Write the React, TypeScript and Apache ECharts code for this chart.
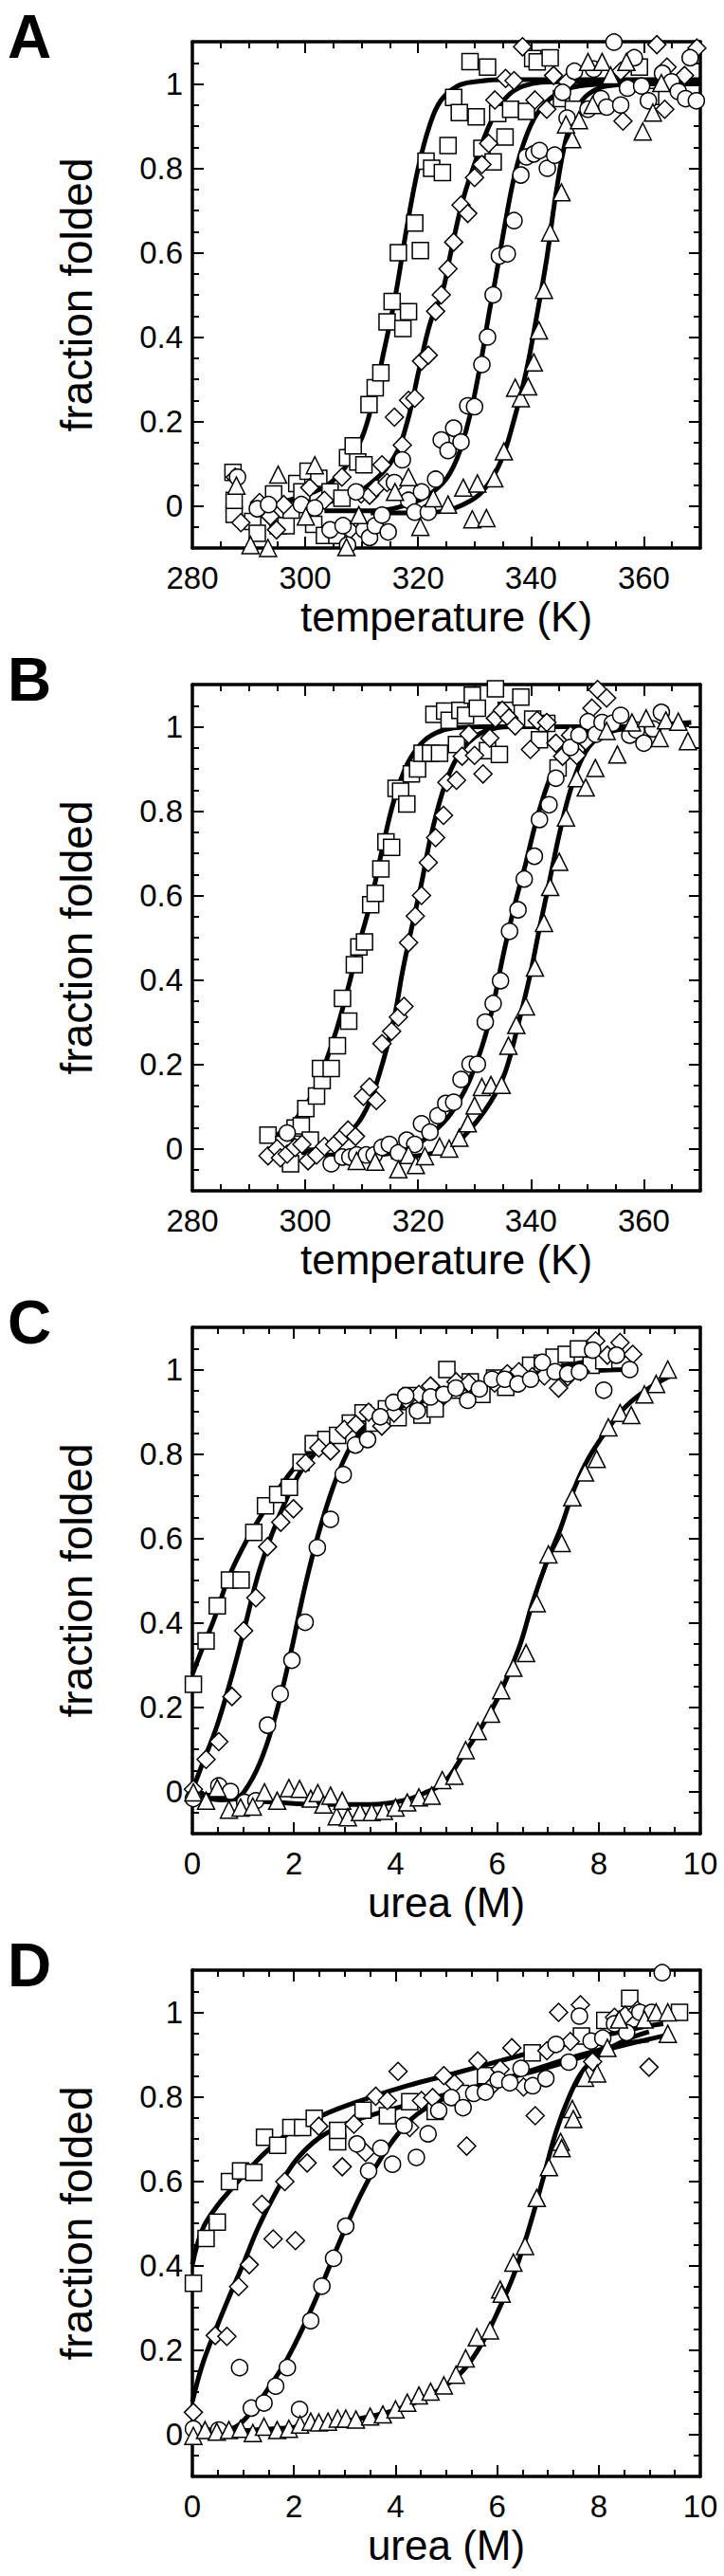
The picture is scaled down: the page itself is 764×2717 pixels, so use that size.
import React, { useEffect, useRef } from 'react';
import * as echarts from 'echarts';

const FONT = '"Liberation Sans", Arial, Helvetica, sans-serif';

const panelLetters = ['A', 'B', 'C', 'D'];
const xTitles = ['temperature (K)', 'temperature (K)', 'urea (M)', 'urea (M)'];
const yTitle = 'fraction folded';

const tempMajor = [280, 300, 320, 340, 360];
const tempMinorStep = 5;
const ureaMajor = [0, 2, 4, 6, 8, 10];
const ureaMinorStep = 0.5;
const fracMajor = [0, 0.2, 0.4, 0.6, 0.8, 1];
const fracMinorStep = 0.05;

// ---------- Panel A (thermal, temperature K) ----------
const aSquares = [
  [287.4, -0.02], [287.4, 0.013], [287.2, 0.079], [290.7, -0.037], [291.5, -0.065], [294.4, 0.028],
  [295.2, -0.047], [296.6, -0.047], [297.5, -0.01], [298.5, 0.053], [299.4, 0.033], [300.5, 0.082],
  [301.5, -0.044], [302.4, 0.065], [303.4, -0.07], [304.4, 0.033], [305.6, -0.07], [306.5, 0.018],
  [307.5, 0.114], [308.5, 0.142], [309.3, 0.104], [310.4, 0.097], [311.3, 0.24], [312.4, 0.28],
  [313.4, 0.315], [314.5, 0.436], [315.4, 0.484], [316.5, 0.6], [317.3, 0.42], [318.3, 0.46],
  [319.4, 0.67], [320.4, 0.605], [321.4, 0.817], [322.4, 0.8], [324.3, 0.79], [325.3, 0.854],
  [326.3, 0.968], [327.3, 0.932], [330.3, 0.922], [329.2, 1.053], [332.3, 1.04], [331.3, 0.847],
  [333.3, 0.815], [334.1, 0.93], [335.4, 0.874], [336.4, 0.94], [339.2, 0.935], [340.3, 1.06],
  [341.1, 1.052], [343.4, 1.062], [345.4, 0.965], [347.5, 0.94], [359.2, 1.04], [361.2, 0.97]
];
const aDiamonds = [
  [287.6, 0.068], [288.6, -0.04], [291.9, 0.008], [293.8, -0.025], [294.9, -0.057], [296.2, 0.003],
  [300.8, 0.043], [303.4, 0.013], [306.5, 0.068], [307.9, -0.057], [309.9, 0.028], [311.4, 0.025],
  [312.6, 0.043], [313.6, 0.097], [314.5, 0.055], [315.8, 0.21], [317.2, 0.144], [318.3, 0.25],
  [319.4, 0.255], [320.6, 0.343], [321.8, 0.357], [323.1, 0.461], [324.1, 0.5], [325.3, 0.562],
  [326.3, 0.625], [327.6, 0.713], [328.8, 0.693], [330.0, 0.778], [331.3, 0.809], [332.5, 0.859],
  [333.6, 0.962], [335.5, 1.013], [337.0, 1.008], [338.5, 1.088], [340.7, 0.962], [342.8, 0.94],
  [344.0, 1.02], [346.4, 1.005], [355.9, 1.03], [356.3, 0.912], [362.3, 1.093], [363.7, 0.94],
  [364.1, 1.04], [367.2, 1.02], [369.4, 1.085]
];
const aCircles = [
  [288.0, 0.068], [291.5, -0.007], [293.5, 0.003], [299.3, 0.003], [301.7, -0.005], [304.4, -0.057],
  [306.7, -0.047], [307.5, -0.093], [309.0, 0.033], [310.4, -0.057], [311.4, -0.075], [312.4, -0.047],
  [313.6, -0.022], [314.7, -0.062], [315.8, 0.055], [317.2, 0.109], [318.3, 0.013], [319.4, -0.015],
  [320.6, 0.033], [321.8, -0.015], [323.1, 0.063], [324.1, 0.156], [325.3, 0.131], [326.3, 0.184],
  [327.6, 0.151], [328.8, 0.237], [330.0, 0.235], [331.3, 0.335], [332.3, 0.4], [333.3, 0.5],
  [334.4, 0.592], [335.8, 0.597], [337.0, 0.676], [338.2, 0.784], [339.2, 0.827], [340.5, 0.834],
  [341.5, 0.842], [342.9, 0.8], [344.2, 0.831], [345.6, 0.98], [346.4, 0.919], [347.7, 1.03],
  [350.1, 0.94], [351.1, 1.035], [352.4, 0.965], [353.4, 0.945], [354.7, 1.099], [355.9, 0.95],
  [357.1, 0.99], [358.3, 1.062], [359.6, 0.995], [360.8, 0.96], [363.3, 1.025], [364.9, 1.005],
  [366.1, 0.982], [367.4, 0.965], [368.2, 1.062], [369.3, 0.96]
];
const aTriangles = [
  [287.8, 0.048], [290.3, -0.093], [293.4, -0.1], [295.2, 0.074], [300.1, -0.025], [301.7, 0.096],
  [307.3, -0.098], [309.5, -0.022], [315.9, 0.033], [318.3, 0.068], [320.4, -0.05], [322.7, 0.018],
  [325.3, 0.003], [328.0, 0.043], [329.6, -0.032], [330.5, 0.053], [332.1, -0.029], [333.5, 0.065],
  [335.2, 0.129], [337.2, 0.28], [338.2, 0.255], [339.5, 0.283], [340.5, 0.34], [341.4, 0.416],
  [342.3, 0.512], [343.4, 0.648], [345.4, 0.743], [347.3, 0.869], [346.2, 0.904], [348.5, 0.914],
  [350.1, 1.052], [350.9, 0.95], [352.6, 1.052], [354.1, 1.02], [356.9, 1.052], [359.8, 0.887],
  [361.6, 0.932], [363.1, 1.002]
];
const aSquareFit = [
  [296, 0.01], [300, 0.025], [304, 0.05], [307, 0.09], [310, 0.16], [312, 0.25], [314, 0.37],
  [316, 0.5], [318, 0.66], [320, 0.8], [322, 0.9], [324, 0.96], [327, 0.995], [330, 1.005],
  [335, 1.01], [350, 1.01], [370, 1.01]
];
const aDiamondFit = [
  [300, 0.005], [307, 0.018], [311.6, 0.053], [315.7, 0.114], [318.1, 0.2], [320.2, 0.325],
  [322.2, 0.436], [324.3, 0.507], [325.9, 0.607], [328, 0.728], [330.5, 0.829], [332.9, 0.91],
  [335.4, 0.965], [338.7, 0.995], [345, 1.005], [370, 1.005]
];
const aCircleFit = [
  [303.4, -0.012], [311.6, -0.012], [318.1, 0.003], [323.1, 0.038], [326.3, 0.094], [328.8, 0.194],
  [330.9, 0.325], [332.5, 0.451], [333.7, 0.537], [335.4, 0.668], [337.0, 0.778], [338.7, 0.859],
  [341.1, 0.93], [344.4, 0.975], [348.5, 0.995], [355, 1.0], [370, 1.0]
];
const aTriangleFit = [
  [311.6, -0.017], [319.8, -0.017], [324.7, -0.012], [328, 0.003], [331.3, 0.033], [334.6, 0.104],
  [337, 0.204], [339.1, 0.315], [341.1, 0.456], [342.8, 0.587], [344.4, 0.738], [346.2, 0.869],
  [348.1, 0.94], [350.1, 0.975], [353.4, 0.995], [360, 1.0], [370, 1.0]
];

// ---------- Panel B (thermal, temperature K) ----------
const bSquares = [
  [293.4, 0.032], [297.4, -0.036], [296.2, 0.01], [298.2, 0.049], [299.3, 0.054], [300.1, 0.095],
  [300.9, 0.02], [302.0, 0.125], [303.0, 0.161], [302.7, 0.19], [304.6, 0.19], [305.7, 0.244],
  [307.7, 0.302], [306.6, 0.356], [308.7, 0.436], [309.5, 0.478], [310.5, 0.49], [311.6, 0.578],
  [312.4, 0.605], [313.4, 0.663], [314.3, 0.727], [315.3, 0.714], [316.1, 0.854], [316.9, 0.847],
  [318.0, 0.817], [318.8, 0.888], [319.9, 0.9], [320.7, 0.937], [322.2, 0.937], [323.8, 0.937],
  [322.8, 1.029], [324.7, 1.037], [325.5, 1.015], [326.8, 0.958], [327.4, 1.039], [328.4, 1.027],
  [329.6, 1.075], [330.5, 1.044], [332.3, 0.943], [334.4, 0.934], [333.7, 1.09], [335.6, 1.039],
  [338.2, 1.07], [340.3, 1.018], [341.5, 0.969], [342.8, 1.008], [344.8, 0.902]
];
const bDiamonds = [
  [293.4, -0.017], [295.0, 0.0], [295.6, -0.022], [296.8, -0.013], [298.2, 0.003], [299.4, 0.01],
  [300.5, -0.029], [302.0, -0.015], [303.4, 0.005], [305.2, 0.01], [306.6, 0.029], [307.6, 0.044],
  [308.9, 0.029], [310.3, 0.124], [311.4, 0.146], [312.6, 0.114], [313.6, 0.249], [315.3, 0.278],
  [316.5, 0.312], [317.5, 0.337], [318.3, 0.488], [319.5, 0.551], [320.6, 0.6], [321.8, 0.678],
  [323.1, 0.737], [324.5, 0.79], [325.1, 0.868], [326.8, 0.873], [327.8, 0.93], [329.0, 0.982],
  [330.0, 0.932], [331.5, 0.888], [332.7, 0.973], [333.7, 1.02], [334.9, 1.039], [336.1, 1.021],
  [337.2, 1.002], [339.9, 0.946], [341.1, 1.015], [342.8, 1.01], [344.4, 0.961], [345.6, 0.93],
  [347.0, 0.98], [348.1, 0.932], [349.7, 0.966], [350.8, 1.044], [351.8, 1.088], [353.4, 1.068]
];
const bCircles = [
  [296.8, 0.037], [304.6, -0.036], [306.6, -0.02], [307.9, -0.02], [309.1, -0.015], [310.8, -0.015],
  [312.2, -0.015], [313.6, 0.003], [314.9, 0.01], [316.5, -0.01], [318.0, 0.02], [319.4, 0.01],
  [320.6, 0.059], [322.1, 0.039], [323.5, 0.078], [324.9, 0.107], [326.3, 0.11], [327.6, 0.164],
  [329.2, 0.2], [330.5, 0.2], [331.9, 0.3], [333.3, 0.344], [334.6, 0.398], [336.2, 0.515],
  [337.7, 0.566], [338.8, 0.639], [340.6, 0.693], [341.5, 0.78], [343.2, 0.815], [344.4, 0.878],
  [347.0, 0.951], [348.5, 0.98], [350.1, 1.012], [351.5, 0.982], [352.6, 1.01], [354.4, 1.008],
  [355.9, 1.027], [357.5, 0.98], [358.7, 0.992], [360.0, 0.961], [361.6, 0.995], [363.1, 1.034]
];
const bTriangles = [
  [309.1, -0.029], [312.4, -0.031], [316.5, -0.049], [318.3, -0.015], [319.6, -0.039], [321.2, -0.018],
  [323.8, 0.005], [325.5, 0.0], [327.3, 0.026], [328.8, 0.06], [330.0, 0.102], [331.3, 0.146],
  [332.9, 0.151], [334.8, 0.151], [336.0, 0.244], [337.4, 0.293], [339.1, 0.337], [340.7, 0.429],
  [342.3, 0.535], [343.4, 0.62], [345.0, 0.68], [346.2, 0.785], [348.1, 0.878], [349.7, 0.856],
  [351.4, 0.902], [353.4, 0.99], [355.3, 0.934], [357.9, 1.01], [360.4, 1.02], [362.8, 0.973],
  [363.9, 1.015], [366.1, 1.012], [367.8, 0.966]
];
const bSquareFit = [
  [292.7, 0.02], [295.2, 0.034], [298.5, 0.073], [301.7, 0.141], [305, 0.259], [307.5, 0.376],
  [309.5, 0.483], [311.6, 0.585], [313.6, 0.707], [315.7, 0.824], [318.1, 0.912], [320.6, 0.961],
  [323.1, 0.985], [326.3, 0.997], [332, 1.0], [345, 1.0]
];
const bDiamondFit = [
  [299.3, -0.01], [303.4, 0.005], [307.5, 0.034], [310.8, 0.093], [313.2, 0.18], [315.7, 0.307],
  [317.3, 0.424], [319, 0.532], [320.6, 0.629], [322.2, 0.737], [324.3, 0.844], [326.3, 0.912],
  [328.8, 0.961], [332, 0.99], [336.2, 1.0], [350, 1.0]
];
const bCircleFit = [
  [303.4, -0.015], [311.6, -0.015], [318.1, 0.0], [323.1, 0.044], [327.2, 0.112], [330.5, 0.21],
  [332.9, 0.317], [335, 0.454], [337, 0.571], [339.1, 0.678], [341.1, 0.785], [343.2, 0.873],
  [345.2, 0.932], [347.7, 0.971], [350.9, 0.995], [356, 1.0], [368, 1.005]
];
const bTriangleFit = [
  [315.2, -0.02], [320.9, -0.015], [325.8, 0.005], [329.1, 0.044], [332.9, 0.112], [335.4, 0.18],
  [337.8, 0.298], [339.9, 0.415], [341.5, 0.522], [343.2, 0.629], [345.2, 0.756], [347.3, 0.863],
  [349.7, 0.941], [352.6, 0.98], [356.7, 0.995], [368.4, 1.01]
];

// ---------- Panel C (urea M) ----------
const cSquares = [
  [0.02, 0.254], [0.27, 0.357], [0.49, 0.44], [0.73, 0.501], [0.96, 0.501], [1.21, 0.614],
  [1.44, 0.677], [1.68, 0.704], [1.91, 0.721], [2.14, 0.78], [2.38, 0.824], [2.63, 0.834],
  [2.86, 0.844], [3.11, 0.873], [3.36, 0.897], [3.57, 0.873], [3.82, 0.907], [4.05, 0.886],
  [4.30, 0.938], [4.52, 0.892], [4.78, 0.907], [5.01, 1.0], [5.24, 0.951], [5.47, 0.971],
  [5.70, 0.941], [5.95, 0.98], [6.17, 0.958], [6.41, 0.983], [6.66, 1.01], [6.89, 1.015],
  [7.12, 1.029], [7.36, 1.036], [7.60, 1.049], [7.85, 1.01], [8.10, 1.021]
];
const cDiamonds = [
  [0.02, 0.005], [0.27, 0.076], [0.52, 0.118], [0.78, 0.225], [1.01, 0.381], [1.25, 0.459],
  [1.48, 0.58], [1.74, 0.638], [1.99, 0.67], [2.23, 0.778], [2.49, 0.814], [2.72, 0.807],
  [2.99, 0.858], [3.22, 0.87], [3.47, 0.899], [3.73, 0.866], [3.97, 0.897], [4.21, 0.929],
  [4.46, 0.941], [4.69, 0.961], [4.95, 0.938], [5.19, 0.971], [5.44, 0.968], [5.95, 0.968],
  [6.20, 0.99], [6.43, 0.995], [6.69, 0.983], [6.93, 0.985], [7.21, 0.956], [7.39, 0.983],
  [7.64, 0.995], [7.94, 1.068], [8.17, 1.034], [8.42, 1.064], [8.67, 1.036]
];
const cCircles = [
  [0.02, -0.017], [0.52, 0.013], [0.75, 0.0], [1.03, -0.026], [1.25, -0.022], [1.48, 0.157],
  [1.73, 0.231], [1.96, 0.311], [2.22, 0.401], [2.46, 0.578], [2.72, 0.645], [2.97, 0.751],
  [3.21, 0.821], [3.45, 0.834], [3.70, 0.888], [3.96, 0.922], [4.20, 0.938], [4.43, 0.902],
  [4.69, 0.935], [4.95, 0.941], [5.19, 0.956], [5.42, 0.927], [5.65, 0.954], [5.90, 0.977],
  [6.15, 0.977], [6.41, 0.966], [6.66, 0.977], [6.89, 1.017], [7.14, 0.995], [7.39, 0.99],
  [7.62, 0.995], [7.88, 1.046], [8.10, 0.951], [8.35, 1.034], [8.61, 1.0]
];
const cTriangles = [
  [0.02, -0.002], [0.27, -0.022], [0.49, 0.008], [0.72, -0.043], [0.95, -0.038], [1.19, -0.036],
  [1.42, -0.002], [1.67, -0.022], [1.90, 0.008], [2.11, 0.006], [2.33, -0.017], [2.47, -0.004],
  [2.58, -0.031], [2.72, -0.01], [2.84, -0.059], [2.95, -0.022], [3.06, -0.061], [3.30, -0.049],
  [3.53, -0.049], [3.77, -0.046], [4.00, -0.038], [4.23, -0.026], [4.46, -0.014], [4.71, -0.01],
  [4.92, 0.027], [5.16, 0.037], [5.38, 0.098], [5.62, 0.143], [5.88, 0.184], [6.08, 0.24],
  [6.32, 0.293], [6.57, 0.328], [6.78, 0.446], [7.01, 0.562], [7.27, 0.589], [7.48, 0.697],
  [7.73, 0.756], [7.96, 0.788], [8.19, 0.863], [8.42, 0.897], [8.64, 0.892], [8.90, 0.941],
  [9.13, 0.966], [9.36, 1.0]
];
const cSquareFit = [
  [0, 0.277], [0.2, 0.34], [0.43, 0.409], [0.71, 0.506], [0.98, 0.575], [1.3, 0.643],
  [1.67, 0.712], [2.03, 0.77], [2.4, 0.814], [2.86, 0.853], [3.5, 0.892], [4.41, 0.922],
  [5.33, 0.951], [6.25, 0.98], [7.16, 1.005], [7.89, 1.02], [8.44, 1.03]
];
const cDiamondFit = [
  [0, 0.003], [0.2, 0.066], [0.48, 0.154], [0.75, 0.262], [1.03, 0.389], [1.3, 0.516],
  [1.58, 0.614], [1.85, 0.692], [2.12, 0.756], [2.4, 0.8], [2.77, 0.839], [3.32, 0.878],
  [3.96, 0.907], [4.9, 0.935], [5.9, 0.965], [6.9, 0.995], [7.8, 1.02], [8.6, 1.035]
];
const cCircleFit = [
  [0, 0.008], [0.29, -0.014], [0.57, -0.02], [0.84, -0.017], [1.12, 0.018], [1.39, 0.086],
  [1.67, 0.194], [1.94, 0.33], [2.22, 0.487], [2.49, 0.614], [2.77, 0.721], [3.04, 0.8],
  [3.32, 0.853], [3.68, 0.892], [4.14, 0.917], [4.87, 0.941], [5.79, 0.961], [6.7, 0.98],
  [7.62, 0.995], [8.63, 1.0]
];
const cTriangleFit = [
  [0, -0.002], [0.75, -0.017], [1.67, -0.026], [2.58, -0.031], [3.5, -0.031], [4.14, -0.022],
  [4.6, -0.002], [4.96, 0.022], [5.33, 0.086], [5.7, 0.154], [6.06, 0.233], [6.43, 0.34],
  [6.7, 0.448], [6.98, 0.545], [7.25, 0.624], [7.53, 0.721], [7.8, 0.79], [8.17, 0.858],
  [8.53, 0.912], [8.99, 0.956], [9.41, 0.985]
];

// ---------- Panel D (urea M) ----------
const dSquares = [
  [0.02, 0.358], [0.27, 0.464], [0.49, 0.503], [0.73, 0.599], [0.95, 0.624], [1.21, 0.621],
  [1.42, 0.704], [1.68, 0.685], [1.94, 0.727], [2.17, 0.727], [2.40, 0.749], [2.86, 0.693],
  [2.86, 0.72], [3.36, 0.768], [3.84, 0.755], [4.28, 0.788], [4.78, 0.765], [5.28, 0.808],
  [5.77, 0.85], [6.69, 0.904], [7.66, 0.944], [8.12, 0.981], [8.61, 1.033], [9.59, 1.0]
];
const dDiamonds = [
  [0.02, 0.052], [0.45, 0.234], [0.68, 0.232], [0.91, 0.35], [1.12, 0.402], [1.37, 0.545],
  [1.59, 0.463], [1.82, 0.599], [2.03, 0.459], [2.26, 0.643], [2.49, 0.73], [2.95, 0.634],
  [3.18, 0.735], [3.41, 0.668], [3.61, 0.801], [3.84, 0.791], [4.05, 0.86], [4.28, 0.727],
  [4.51, 0.791], [4.73, 0.798], [4.95, 0.85], [5.16, 0.831], [5.40, 0.683], [5.62, 0.885],
  [5.86, 0.821], [6.06, 0.865], [6.29, 0.916], [6.52, 0.823], [6.75, 0.755], [6.98, 0.909],
  [7.21, 1.0], [7.44, 0.931], [7.64, 1.018], [7.88, 0.883], [8.31, 0.988], [8.52, 0.993],
  [8.76, 1.005], [8.99, 0.87]
];
const dCircles = [
  [0.02, 0.013], [0.52, 0.01], [0.93, 0.158], [1.16, 0.062], [1.41, 0.074], [1.64, 0.114],
  [1.87, 0.158], [2.11, 0.059], [2.33, 0.269], [2.55, 0.351], [2.78, 0.417], [3.02, 0.493],
  [3.24, 0.688], [3.47, 0.624], [3.71, 0.678], [3.94, 0.64], [4.17, 0.732], [4.41, 0.656],
  [4.64, 0.712], [4.85, 0.767], [5.10, 0.798], [5.33, 0.774], [5.54, 0.808], [5.77, 0.811],
  [6.02, 0.84], [6.25, 0.833], [6.47, 0.867], [6.70, 0.826], [6.96, 0.843], [7.16, 0.924],
  [7.41, 0.882], [7.62, 0.991], [7.85, 0.932], [8.08, 0.939], [8.31, 0.973], [8.55, 0.952],
  [8.81, 1.0], [9.04, 1.0], [9.25, 1.094]
];
const dTriangles = [
  [0.02, -0.004], [0.25, 0.01], [0.48, 0.006], [0.72, 0.01], [0.95, 0.013], [1.19, 0.003],
  [1.41, 0.018], [1.67, 0.01], [1.90, 0.013], [2.12, 0.023], [2.33, 0.03], [2.49, 0.028],
  [2.67, 0.03], [2.86, 0.037], [3.02, 0.037], [3.22, 0.035], [3.50, 0.042], [3.75, 0.047],
  [4.0, 0.059], [4.23, 0.075], [4.46, 0.092], [4.69, 0.101], [4.95, 0.116], [5.19, 0.141],
  [5.38, 0.18], [5.60, 0.23], [5.86, 0.246], [6.06, 0.343], [6.09, 0.333], [6.32, 0.407],
  [6.55, 0.446], [6.78, 0.56], [7.02, 0.633], [7.25, 0.693], [7.27, 0.678], [7.48, 0.771],
  [7.50, 0.747], [7.73, 0.845], [7.97, 0.855], [8.17, 0.916], [8.40, 0.983], [8.90, 0.983],
  [9.13, 1.0], [9.36, 1.0], [9.36, 0.949]
];
const dSquareFit = [
  [0, 0.402], [0.2, 0.486], [0.48, 0.54], [0.75, 0.579], [1.12, 0.629], [1.48, 0.673],
  [1.94, 0.717], [2.58, 0.757], [3.32, 0.791], [4.23, 0.826], [5.15, 0.855], [6.06, 0.885],
  [6.98, 0.914], [7.89, 0.939], [8.81, 0.964], [9.27, 0.973]
];
const dDiamondFit = [
  [0, 0.077], [0.2, 0.166], [0.48, 0.254], [0.75, 0.333], [1.03, 0.412], [1.3, 0.491],
  [1.67, 0.579], [2.03, 0.648], [2.49, 0.702], [3.04, 0.737], [3.68, 0.762], [4.41, 0.786],
  [5.33, 0.816], [6.25, 0.845], [7.16, 0.875], [8.08, 0.909], [9.27, 0.944]
];
const dCircleFit = [
  [0, 0.023], [0.38, 0.01], [0.75, 0.013], [1.12, 0.047], [1.48, 0.106], [1.85, 0.175],
  [2.22, 0.264], [2.58, 0.363], [2.95, 0.471], [3.32, 0.569], [3.68, 0.648], [4.05, 0.712],
  [4.41, 0.757], [4.96, 0.796], [5.7, 0.826], [6.61, 0.86], [7.53, 0.895], [8.44, 0.924],
  [8.99, 0.934]
];
const dTriangleFit = [
  [0, 0.003], [1.21, 0.01], [2.58, 0.023], [3.5, 0.042], [4.23, 0.067], [4.87, 0.106],
  [5.33, 0.151], [5.7, 0.215], [6.06, 0.303], [6.34, 0.382], [6.61, 0.481], [6.89, 0.599],
  [7.16, 0.717], [7.44, 0.806], [7.71, 0.865], [8.08, 0.904], [8.53, 0.934], [8.99, 0.954]
];

const panelPoints = [
  [aSquares, aDiamonds, aCircles, aTriangles],
  [bSquares, bDiamonds, bCircles, bTriangles],
  [cSquares, cDiamonds, cCircles, cTriangles],
  [dSquares, dDiamonds, dCircles, dTriangles]
];
const panelFits = [
  [aSquareFit, aDiamondFit, aCircleFit, aTriangleFit],
  [bSquareFit, bDiamondFit, bCircleFit, bTriangleFit],
  [cSquareFit, cDiamondFit, cCircleFit, cTriangleFit],
  [dSquareFit, dDiamondFit, dCircleFit, dTriangleFit]
];

const symbols = ['rect', 'diamond', 'circle', 'triangle'];
const symbolSizes = [17, 19, 17, 18];

const PANEL_TOP = [44, 722, 1400, 2078];
const GRID_LEFT = 203;
const GRID_W = 536;
const GRID_H = 534;

function buildOption() {
  const grids: any[] = [];
  const xAxes: any[] = [];
  const yAxes: any[] = [];
  const series: any[] = [];
  const graphics: any[] = [];
  const tickLine = { color: '#000', width: 2 };
  const frameLine = { show: true, onZero: false, lineStyle: { color: '#000', width: 3.5 } };
  const noLine = { show: false, onZero: false };

  for (let i = 0; i < 4; i++) {
    const isTemp = i < 2;
    const xMin = isTemp ? 280 : 0;
    const xMax = isTemp ? 370 : 10;
    const xMaj = isTemp ? tempMajor : ureaMajor;
    const xStep = isTemp ? tempMinorStep : ureaMinorStep;
    grids.push({
      left: GRID_LEFT, top: PANEL_TOP[i], width: GRID_W, height: GRID_H, show: false
    });
    const xBase = { type: 'value', gridIndex: i, min: xMin, max: xMax, splitLine: { show: false } };
    xAxes.push({
      ...xBase, position: 'bottom', axisLine: frameLine,
      axisTick: { show: true, inside: true, length: 12, lineStyle: tickLine, customValues: xMaj },
      axisLabel: {
        show: true, customValues: xMaj, fontSize: 33, fontFamily: FONT, color: '#000', margin: 15,
        showMinLabel: true, showMaxLabel: true, formatter: (v: number) => String(Math.round(v))
      }
    });
    xAxes.push({
      ...xBase, position: 'bottom', interval: xStep, axisLine: noLine,
      axisTick: { show: true, inside: true, length: 7, lineStyle: tickLine }, axisLabel: { show: false }
    });
    xAxes.push({
      ...xBase, position: 'top', axisLine: frameLine,
      axisTick: { show: true, inside: true, length: 12, lineStyle: tickLine, customValues: xMaj }, axisLabel: { show: false }
    });
    xAxes.push({
      ...xBase, position: 'top', interval: xStep, axisLine: noLine,
      axisTick: { show: true, inside: true, length: 7, lineStyle: tickLine }, axisLabel: { show: false }
    });

    const yBase = { type: 'value', gridIndex: i, min: -0.1, max: 1.1, splitLine: { show: false } };
    yAxes.push({
      ...yBase, position: 'left', axisLine: frameLine,
      axisTick: { show: true, inside: true, length: 12, lineStyle: tickLine, customValues: fracMajor },
      axisLabel: {
        show: true, customValues: fracMajor, fontSize: 33, fontFamily: FONT, color: '#000', margin: 10,
        formatter: (v: number) => String(Math.round(v * 10) / 10)
      }
    });
    yAxes.push({
      ...yBase, position: 'left', interval: fracMinorStep, axisLine: noLine,
      axisTick: { show: true, inside: true, length: 7, lineStyle: tickLine }, axisLabel: { show: false }
    });
    yAxes.push({
      ...yBase, position: 'right', axisLine: frameLine,
      axisTick: { show: true, inside: true, length: 12, lineStyle: tickLine, customValues: fracMajor }, axisLabel: { show: false }
    });
    yAxes.push({
      ...yBase, position: 'right', interval: fracMinorStep, axisLine: noLine,
      axisTick: { show: true, inside: true, length: 7, lineStyle: tickLine }, axisLabel: { show: false }
    });

    for (let k = 0; k < 4; k++) {
      series.push({
        type: 'line', xAxisIndex: i * 4, yAxisIndex: i * 4, data: panelFits[i][k],
        smooth: 0.4, symbol: 'none', z: 2,
        lineStyle: { color: '#000', width: 5 }
      });
    }
    for (let k = 0; k < 4; k++) {
      series.push({
        type: 'scatter', xAxisIndex: i * 4, yAxisIndex: i * 4, data: panelPoints[i][k],
        symbol: symbols[k], symbolSize: symbolSizes[k], z: 3,
        itemStyle: { color: '#fff', borderColor: '#000', borderWidth: 1.5, opacity: 1 }
      });
    }

    const top = PANEL_TOP[i];
    graphics.push({
      type: 'text', left: 8, top: top - 37,
      style: { text: panelLetters[i], fontSize: 64, fontWeight: 'bold', fontFamily: FONT, fill: '#000' }
    });
    graphics.push({
      type: 'text', x: 81, y: top + GRID_H / 2, rotation: Math.PI / 2,
      style: {
        text: yTitle, fontSize: 46, fontFamily: FONT, fill: '#000',
        align: 'center', verticalAlign: 'middle', textAlign: 'center', textVerticalAlign: 'middle'
      }
    });
    graphics.push({
      type: 'text', x: GRID_LEFT + GRID_W / 2, y: top + GRID_H + 72,
      style: {
        text: xTitles[i], fontSize: 44, fontFamily: FONT, fill: '#000',
        align: 'center', verticalAlign: 'middle', textAlign: 'center', textVerticalAlign: 'middle'
      }
    });
  }

  return {
    animation: false,
    backgroundColor: '#fff',
    grid: grids,
    xAxis: xAxes,
    yAxis: yAxes,
    series,
    graphic: { elements: graphics }
  };
}

export default function App() {
  const ref = useRef<HTMLDivElement>(null);
  useEffect(() => {
    if (!ref.current) return;
    const chart = echarts.init(ref.current, null, { renderer: 'svg' });
    chart.setOption(buildOption() as any);
    return () => chart.dispose();
  }, []);
  return (
    <div
      ref={ref}
      style={{ position: 'absolute', left: 0, top: 0, width: 764, height: 2717, background: '#fff' }}
    />
  );
}
